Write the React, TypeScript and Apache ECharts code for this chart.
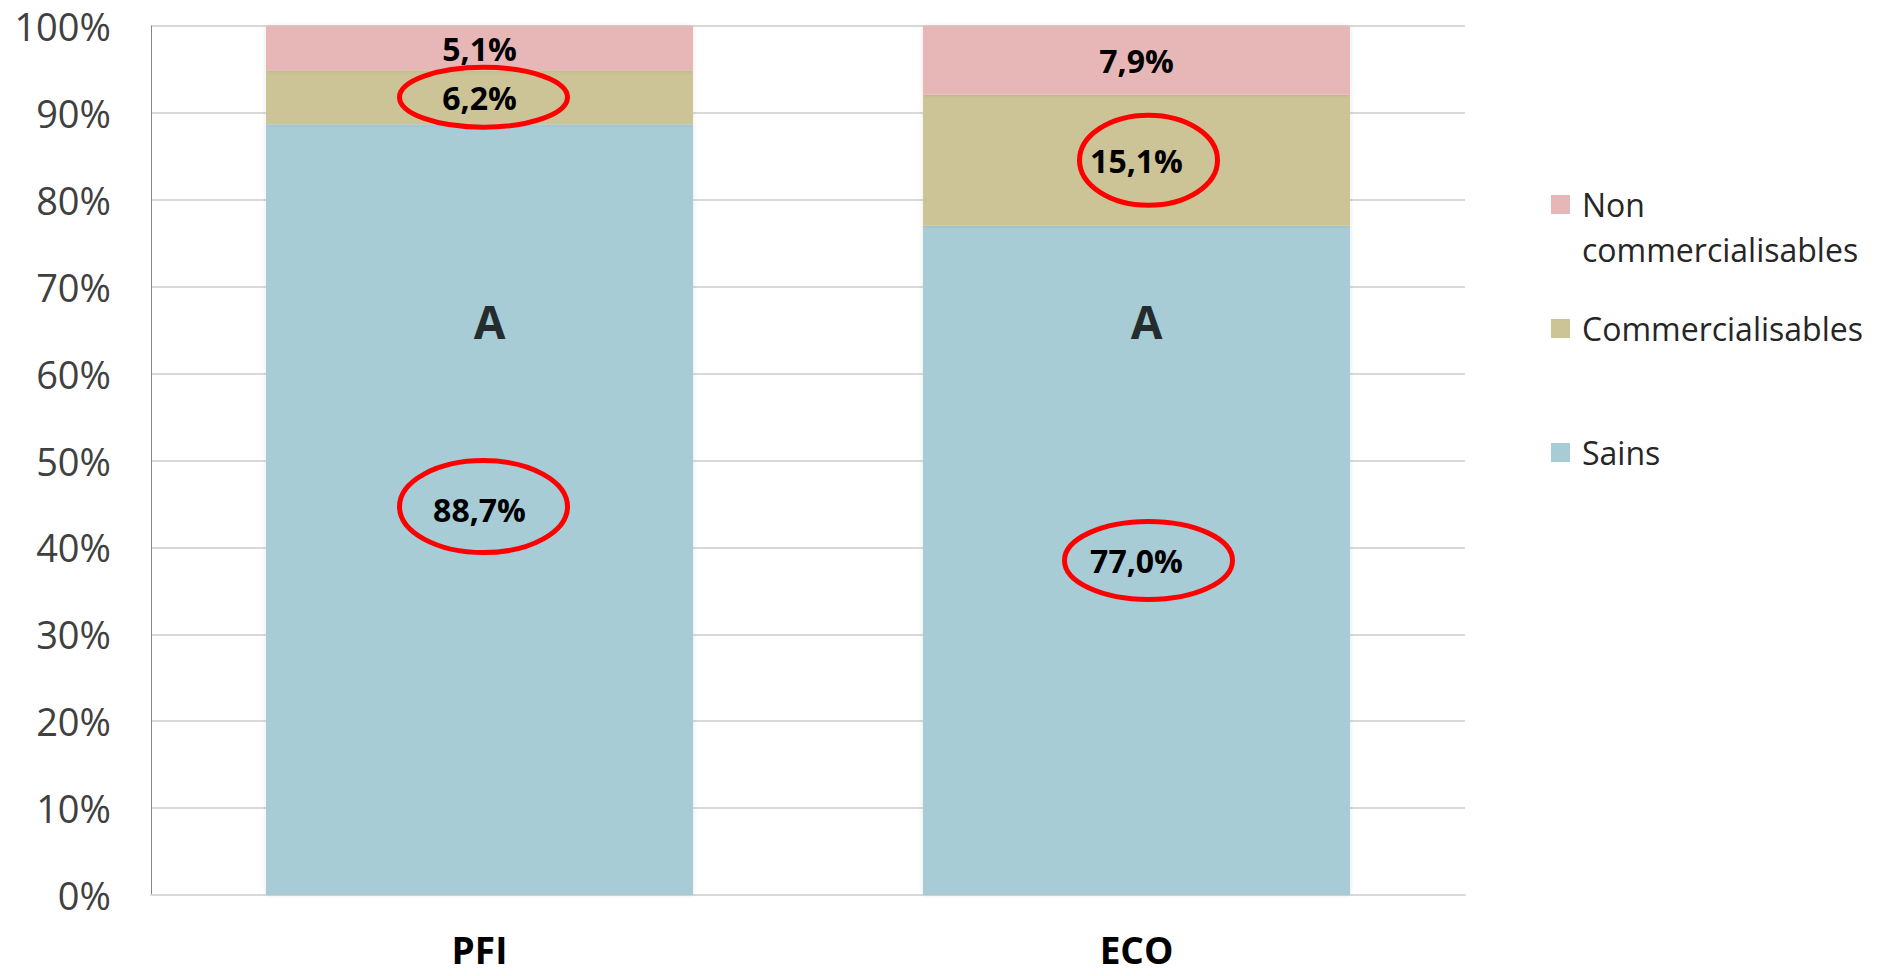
import React, { useEffect, useRef } from "react";
import * as echarts from "echarts";

const categories = ["PFI", "ECO"];
const sains = [88.7, 77.0];
const commercialisables = [6.2, 15.1];
const nonCommercialisables = [5.1, 7.9];
const groupLetters = ["A", "A"];
const letterLevel = 66;
const yTicks = [0, 10, 20, 30, 40, 50, 60, 70, 80, 90, 100];

// circled labels: [seriesIndex (0 sains,1 comm,2 non), categoryIndex, rx, ry, dx, dy]
const circled: [number, number, number, number, number, number][] = [
  [1, 0, 84, 30, 4, 0],
  [0, 0, 84, 46, 4, -3],
  [1, 1, 69, 45, 12, 0],
  [0, 1, 84, 39, 12, 0],
];

const COLORS = ["#A8CCD6", "#CCC496", "#E7B7B8"];
const FONT = "'Open Sans', 'Noto Sans', sans-serif";

const fmt = (v: number) => v.toFixed(1).replace(".", ",") + "%";

export default function App() {
  const ref = useRef<HTMLDivElement>(null);
  useEffect(() => {
    document.body.style.margin = "0";
    const chart = echarts.init(ref.current!, null, { renderer: "svg" });
    const seriesValues = [sains, commercialisables, nonCommercialisables];
    const names = ["Sains", "Commercialisables", "Non commercialisables"];
    const barSeries = names.map((n, i) => ({
      name: n,
      type: "bar",
      stack: "total",
      barWidth: "65%",
      data: seriesValues[i],
      itemStyle: {
        color: COLORS[i],
        shadowBlur: 4,
        shadowColor: "rgba(0,0,0,0.12)",
      },
      label: {
        show: true,
        position: "inside",
        formatter: (p: any) => fmt(p.value),
        color: "#000",
        fontFamily: FONT,
        fontWeight: "bold",
        fontSize: 32,
      },
    }));
    const legendItem = (name: string, top: number, multi: boolean) => ({
      data: [name],
      orient: "vertical",
      left: 1551,
      top,
      padding: 0,
      itemWidth: 19,
      itemHeight: 19,
      icon: "rect",
      selectedMode: false,
      formatter: multi ? () => " \nNon\ncommercialisables" : undefined,
      textStyle: {
        fontFamily: FONT,
        fontSize: 32,
        color: "#262626",
        lineHeight: 45,
        padding: [0, 0, 0, 7],
      },
    });
    chart.setOption({
      animation: false,
      backgroundColor: "#ffffff",
      grid: { left: 151, right: 413, top: 26, bottom: 81, containLabel: false },
      legend: [
        legendItem("Non commercialisables", 137, true),
        legendItem("Commercialisables", 306, false),
        legendItem("Sains", 430, false),
      ],
      xAxis: {
        type: "category",
        data: categories,
        axisLine: { show: true, lineStyle: { color: "#d9d9d9", width: 2 } },
        axisTick: { show: false },
        axisLabel: {
          margin: 36,
          fontFamily: FONT,
          fontWeight: "bold",
          fontSize: 37,
          lineHeight: 36,
          color: "#000",
        },
      },
      yAxis: {
        type: "value",
        min: yTicks[0],
        max: yTicks[yTicks.length - 1],
        interval: 10,
        axisLine: { show: true, lineStyle: { color: "#868686", width: 1 } },
        axisTick: { show: false },
        splitLine: { lineStyle: { color: "#d9d9d9", width: 2 } },
        axisLabel: {
          margin: 40,
          fontFamily: FONT,
          fontSize: 38,
          color: "#404040",
          formatter: (v: number) => v + "%",
        },
      },
      series: [
        ...barSeries,
        {
          name: "letters",
          type: "scatter",
          symbolSize: 0,
          silent: true,
          data: categories.map((c, i) => [c, letterLevel, groupLetters[i]]),
          label: {
            show: true,
            position: "inside",
            offset: [10, 0],
            formatter: (p: any) => p.value[2],
            color: "#000000",
            textBorderWidth: 0,
            fontFamily: FONT,
            fontWeight: "bold",
            fontSize: 46,
          },
        },
      ],
    });
    const graphics = circled.map(([s, c, rx, ry, dx, dy]) => {
      let base = 0;
      for (let k = 0; k < s; k++) base += seriesValues[k][c];
      const center = base + seriesValues[s][c] / 2;
      const pt = chart.convertToPixel({ xAxisIndex: 0, yAxisIndex: 0 }, [
        categories[c],
        center,
      ]) as number[];
      return {
        type: "ellipse",
        silent: true,
        shape: { cx: pt[0] + dx, cy: pt[1] + dy, rx, ry },
        style: { fill: "none", stroke: "#FF0000", lineWidth: 5 },
        z: 100,
      };
    });
    chart.setOption({ graphic: graphics });
    return () => chart.dispose();
  }, []);
  return (
    <div
      ref={ref}
      style={{ position: "fixed", left: 0, top: 0, width: 1878, height: 976 }}
    />
  );
}
